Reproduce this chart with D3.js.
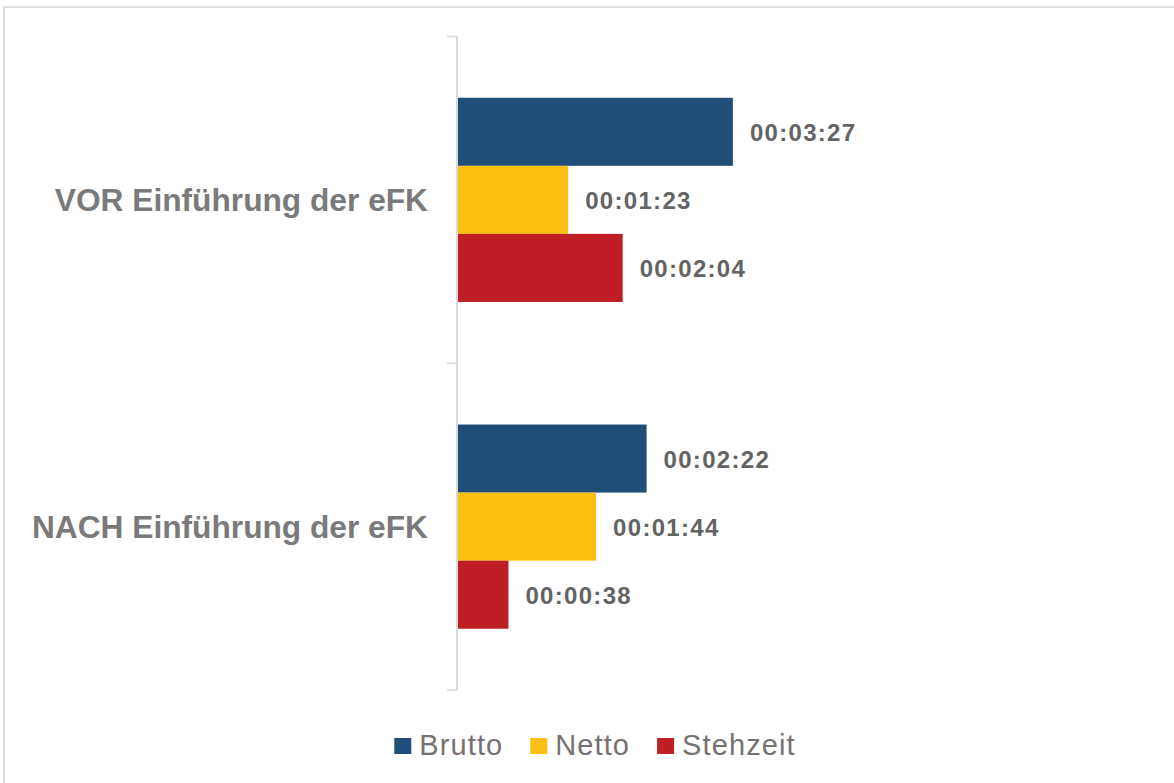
<!DOCTYPE html>
<html>
<head>
<meta charset="utf-8">
<script src="https://cdn.jsdelivr.net/npm/d3@7"></script>
<style>
  html, body { margin: 0; padding: 0; background: #fff; }
  svg { display: block; }
  text { font-family: "Liberation Sans", Arial, sans-serif; }
</style>
</head>
<body>
<script>
// Durchschnittliche Zeiten (in Sekunden) vor und nach Einführung der eFK
const categories = ["VOR Einführung der eFK", "NACH Einführung der eFK"];
const series = ["Brutto", "Netto", "Stehzeit"];
const brutto = [207, 142];   // 00:03:27, 00:02:22
const netto = [83, 104];     // 00:01:23, 00:01:44
const stehzeit = [124, 38];  // 00:02:04, 00:00:38
const colors = ["#1F4E79", "#FDBF12", "#BE1E24"];

const W = 1174, H = 783;
const svg = d3.select("body").append("svg").attr("width", W).attr("height", H);

// Rahmen des Diagrammbereichs
svg.append("rect")
  .attr("x", 4).attr("y", 7)
  .attr("width", W + 20).attr("height", H + 20)
  .attr("fill", "none").attr("stroke", "#d9d9d9").attr("stroke-width", 1.6);

const x0 = 458;
const x = d3.scaleLinear().domain([0, 300]).range([x0, x0 + 398.4]);
const y = d3.scaleBand().domain(categories).range([36.5, 690]).paddingInner(0).paddingOuter(0);
const ySub = d3.scaleBand().domain(series).range([0, y.bandwidth()]).paddingInner(0).paddingOuter(0.9);

const values = { Brutto: brutto, Netto: netto, Stehzeit: stehzeit };
const fmt = s => {
  const h = Math.floor(s / 3600), m = Math.floor((s % 3600) / 60), sec = s % 60;
  return [h, m, sec].map(v => String(v).padStart(2, "0")).join(":");
};

// Kategorienachse (Linie + Teilstriche an den Bandgrenzen)
const axisG = svg.append("g");
axisG.append("line")
  .attr("x1", x0 - 1).attr("x2", x0 - 1)
  .attr("y1", y.range()[0]).attr("y2", y.range()[1])
  .attr("stroke", "#d9d9d9").attr("stroke-width", 2);
const boundaries = categories.map(c => y(c)).concat([y.range()[1]]);
axisG.selectAll("line.tick").data(boundaries).join("line")
  .attr("class", "tick")
  .attr("x1", x0 - 11).attr("x2", x0 - 1)
  .attr("y1", d => d).attr("y2", d => d)
  .attr("stroke", "#d9d9d9").attr("stroke-width", 1.6);

axisG.selectAll("text.cat").data(categories).join("text")
  .attr("class", "cat")
  .attr("x", 428)
  .attr("y", d => y(d) + y.bandwidth() / 2 + 11)
  .attr("text-anchor", "end")
  .attr("font-size", 31.7)
  .attr("font-weight", "bold")
  .attr("fill", "#7a7a7a")
  .text(d => d);

// Balken
const groups = svg.selectAll("g.cat").data(categories).join("g")
  .attr("class", "cat")
  .attr("transform", d => `translate(0,${y(d)})`);

groups.each(function (cat, ci) {
  const g = d3.select(this);
  const rows = series.map((s, si) => ({ s, si, v: values[s][ci] }));
  g.selectAll("rect").data(rows).join("rect")
    .attr("x", x(0))
    .attr("y", d => ySub(d.s))
    .attr("width", d => x(d.v) - x(0))
    .attr("height", ySub.bandwidth())
    .attr("fill", d => colors[d.si]);
  g.selectAll("text").data(rows).join("text")
    .attr("x", d => x(d.v) + 17)
    .attr("y", d => ySub(d.s) + ySub.bandwidth() / 2 + 9.5)
    .attr("font-size", 24)
    .attr("font-weight", "bold")
    .attr("letter-spacing", 1.3)
    .attr("fill", "#636363")
    .text(d => fmt(d.v));
});

// Legende
const legend = svg.append("g");
let lx = 0;
series.forEach((s, i) => {
  const item = legend.append("g").attr("transform", `translate(${lx},0)`);
  item.append("rect").attr("x", 0).attr("y", 738).attr("width", 17).attr("height", 16).attr("fill", colors[i]);
  const t = item.append("text").attr("x", 25).attr("y", 755)
    .attr("font-size", 29).attr("letter-spacing", 1.1).attr("fill", "#767171").text(s);
  lx += 25 + t.node().getComputedTextLength() + 27;
});
const lw = lx - 27;
legend.attr("transform", `translate(${595 - lw / 2},0)`);
</script>
</body>
</html>
